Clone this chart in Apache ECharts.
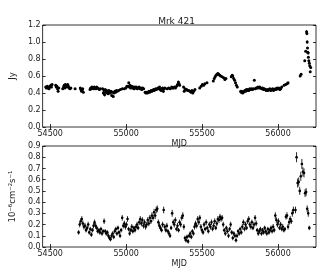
<!DOCTYPE html>
<html><head><meta charset="utf-8">
<script src="https://cdn.jsdelivr.net/npm/echarts@6/dist/echarts.min.js"></script>
<style>html,body{margin:0;padding:0;background:#fff}#c{width:334px;height:276px}</style>
</head><body><div id="c"></div>
<script>
// ---- data ----
const TITLE = 'Mrk 421';
const X_TICKS = [54500, 55000, 55500, 56000];
const TOP_Y_TICKS = [0, 0.2, 0.4, 0.6, 0.8, 1.0, 1.2];
const BOT_Y_TICKS = [0, 0.1, 0.2, 0.3, 0.4, 0.5, 0.6, 0.7, 0.8, 0.9];
// radio flux density [MJD, Jy, err]
const RADIO = [
[54470,0.47,0.01],[54475,0.46,0.01],[54480,0.48,0.01],[54484,0.46,0.01],[54488,0.47,0.01],[54492,0.45,0.01],[54496,0.47,0.01],[54500,0.48,0.01],[54504,0.49,0.01],[54508,0.47,0.01],[54512,0.50,0.01],
[54536,0.49,0.01],[54540,0.47,0.01],[54544,0.48,0.01],[54548,0.45,0.01],[54552,0.42,0.01],[54556,0.46,0.01],
[54582,0.45,0.01],[54588,0.47,0.01],[54592,0.49,0.01],[54596,0.46,0.01],[54600,0.50,0.01],[54605,0.48,0.01],[54610,0.47,0.01],[54615,0.50,0.01],[54620,0.48,0.01],[54625,0.46,0.01],[54630,0.45,0.01],[54636,0.46,0.01],
[54664,0.45,0.01],
[54698,0.46,0.01],[54702,0.44,0.01],[54706,0.42,0.01],[54710,0.43,0.01],[54714,0.45,0.01],[54718,0.41,0.01],
[54762,0.44,0.01],[54766,0.46,0.01],[54770,0.45,0.01],[54775,0.47,0.01],[54780,0.46,0.01],[54785,0.45,0.01],[54790,0.47,0.01],[54795,0.46,0.01],[54800,0.45,0.01],[54806,0.47,0.01],[54812,0.46,0.01],[54818,0.45,0.01],[54824,0.44,0.01],[54830,0.45,0.01],
[54845,0.45,0.01],[54850,0.40,0.02],[54854,0.43,0.01],[54858,0.38,0.02],[54862,0.44,0.01],[54866,0.41,0.01],[54870,0.43,0.01],[54874,0.40,0.01],[54878,0.42,0.01],[54882,0.39,0.01],[54886,0.43,0.01],[54890,0.41,0.01],[54895,0.40,0.01],[54900,0.42,0.01],[54905,0.37,0.01],[54910,0.41,0.01],[54915,0.36,0.01],[54920,0.40,0.01],[54925,0.42,0.01],[54930,0.41,0.01],[54936,0.43,0.01],[54942,0.42,0.01],[54950,0.43,0.01],
[54962,0.44,0.01],[54975,0.45,0.01],[54988,0.45,0.01],[54998,0.46,0.01],[55005,0.48,0.01],[55012,0.48,0.01],[55017,0.52,0.01],[55021,0.47,0.01],[55025,0.49,0.01],[55029,0.46,0.01],[55033,0.47,0.01],[55037,0.48,0.01],[55042,0.46,0.01],[55047,0.47,0.01],[55052,0.45,0.01],[55057,0.47,0.01],[55062,0.46,0.01],[55067,0.47,0.01],[55073,0.45,0.01],[55079,0.46,0.01],[55085,0.47,0.01],[55091,0.45,0.01],[55097,0.46,0.01],[55103,0.44,0.01],[55109,0.46,0.01],[55115,0.45,0.01],
[55125,0.41,0.01],[55130,0.40,0.01],[55135,0.41,0.01],[55140,0.40,0.01],[55145,0.41,0.01],[55150,0.42,0.01],[55155,0.41,0.01],[55160,0.42,0.01],[55165,0.43,0.01],[55170,0.42,0.01],[55175,0.43,0.01],[55180,0.44,0.01],[55185,0.43,0.01],[55190,0.44,0.01],[55195,0.45,0.01],[55200,0.44,0.01],[55205,0.45,0.01],[55210,0.46,0.01],[55215,0.45,0.01],[55220,0.47,0.01],[55225,0.44,0.01],[55230,0.43,0.01],[55235,0.45,0.01],[55240,0.46,0.01],[55245,0.42,0.02],[55250,0.45,0.01],[55255,0.46,0.01],
[55270,0.45,0.01],[55280,0.46,0.01],[55290,0.45,0.01],[55300,0.47,0.01],[55305,0.46,0.01],[55310,0.46,0.01],[55318,0.47,0.01],[55325,0.46,0.01],[55332,0.48,0.01],[55338,0.50,0.01],[55344,0.53,0.01],[55348,0.51,0.01],[55352,0.49,0.01],
[55378,0.47,0.01],[55382,0.42,0.01],[55387,0.45,0.01],[55392,0.44,0.01],[55398,0.44,0.01],[55404,0.43,0.01],[55412,0.43,0.01],[55420,0.42,0.01],[55427,0.41,0.01],[55433,0.43,0.01],[55439,0.40,0.01],[55445,0.42,0.01],[55453,0.44,0.01],
[55484,0.46,0.01],[55494,0.48,0.01],[55502,0.50,0.01],[55510,0.49,0.01],[55518,0.51,0.01],[55532,0.52,0.01],
[55574,0.54,0.01],[55580,0.57,0.01],[55586,0.59,0.01],[55592,0.61,0.01],[55598,0.62,0.01],[55604,0.63,0.01],[55610,0.62,0.01],[55616,0.61,0.01],[55622,0.60,0.01],[55632,0.59,0.01],[55642,0.58,0.01],[55650,0.56,0.01],[55657,0.57,0.01],
[55692,0.59,0.01],[55698,0.61,0.01],[55702,0.60,0.01],[55708,0.57,0.01],[55714,0.55,0.01],[55720,0.52,0.01],[55726,0.49,0.01],[55732,0.47,0.01],
[55754,0.42,0.01],[55758,0.41,0.01],[55762,0.42,0.01],[55767,0.40,0.01],[55772,0.41,0.01],[55777,0.42,0.01],[55782,0.43,0.01],[55787,0.42,0.01],[55792,0.44,0.01],[55797,0.43,0.01],[55802,0.44,0.01],[55808,0.43,0.01],[55814,0.45,0.01],[55820,0.44,0.01],[55826,0.45,0.01],[55832,0.44,0.01],[55838,0.45,0.01],[55844,0.55,0.01],[55850,0.45,0.01],[55856,0.46,0.01],[55862,0.46,0.01],[55868,0.47,0.01],[55874,0.46,0.01],[55880,0.47,0.01],[55886,0.46,0.01],[55892,0.45,0.01],[55898,0.46,0.01],[55904,0.44,0.01],[55910,0.45,0.01],[55916,0.44,0.01],[55922,0.43,0.01],[55928,0.44,0.01],[55934,0.43,0.01],
[55940,0.44,0.01],[55946,0.45,0.01],[55952,0.43,0.01],[55958,0.44,0.01],[55964,0.45,0.01],[55970,0.43,0.01],[55976,0.44,0.01],[55982,0.45,0.01],[55988,0.44,0.01],[55994,0.46,0.01],[56000,0.45,0.01],[56006,0.46,0.01],[56012,0.44,0.01],[56018,0.45,0.01],[56024,0.47,0.01],[56040,0.49,0.01],[56050,0.50,0.01],[56060,0.51,0.01],[56066,0.52,0.01],
[56146,0.60,0.01],[56152,0.62,0.01],[56176,0.78,0.01],[56182,0.89,0.01],[56188,1.12,0.02],[56190,1.10,0.02],[56192,1.00,0.02],[56194,0.93,0.01],[56196,0.88,0.01],[56198,0.87,0.01],[56200,0.82,0.01],[56203,0.78,0.01],[56206,0.75,0.01],[56209,0.72,0.01],[56212,0.65,0.01],[56215,0.70,0.01]
];
// gamma-ray flux [MJD, 1e-6 cm^-2 s^-1, err]
const GAMMA = [
[54687,0.13,0.02],[54694,0.20,0.025],[54701,0.23,0.025],[54708,0.25,0.025],[54715,0.21,0.025],[54722,0.18,0.025],[54729,0.19,0.025],[54736,0.15,0.02],[54743,0.17,0.02],[54750,0.20,0.025],
[54757,0.13,0.02],[54764,0.16,0.02],[54771,0.11,0.02],[54778,0.15,0.02],[54785,0.19,0.025],[54792,0.22,0.025],[54799,0.19,0.025],[54806,0.17,0.02],[54813,0.14,0.02],[54820,0.15,0.02],
[54827,0.13,0.02],[54834,0.16,0.02],[54841,0.12,0.02],[54848,0.14,0.02],[54855,0.23,0.025],[54862,0.14,0.02],[54869,0.12,0.02],[54876,0.13,0.02],[54883,0.10,0.02],[54890,0.08,0.02],
[54897,0.07,0.02],[54904,0.10,0.02],[54911,0.12,0.02],[54918,0.09,0.02],[54925,0.14,0.02],[54932,0.16,0.02],[54939,0.12,0.02],[54946,0.17,0.02],[54953,0.13,0.02],[54960,0.10,0.02],
[54967,0.15,0.02],[54974,0.26,0.025],[54981,0.19,0.025],[54988,0.21,0.025],[54995,0.18,0.025],[55002,0.20,0.025],[55009,0.25,0.025],[55016,0.16,0.02],[55023,0.12,0.02],[55030,0.15,0.02],
[55037,0.18,0.025],[55044,0.14,0.02],[55051,0.17,0.02],[55058,0.15,0.02],[55065,0.18,0.025],[55072,0.20,0.025],[55079,0.17,0.02],[55086,0.22,0.025],[55093,0.25,0.025],[55100,0.21,0.025],
[55107,0.24,0.025],[55114,0.19,0.025],[55121,0.22,0.025],[55128,0.18,0.025],[55135,0.20,0.025],[55142,0.24,0.025],[55149,0.21,0.025],[55156,0.26,0.025],[55163,0.23,0.025],[55170,0.28,0.03],
[55177,0.26,0.025],[55184,0.31,0.03],[55191,0.28,0.03],[55198,0.33,0.03],[55205,0.34,0.03],[55212,0.22,0.025],[55219,0.19,0.025],[55226,0.17,0.02],[55233,0.15,0.02],[55240,0.20,0.025],
[55247,0.33,0.03],[55254,0.18,0.025],[55261,0.15,0.02],[55268,0.19,0.025],[55275,0.14,0.02],[55282,0.12,0.02],[55289,0.10,0.02],[55296,0.17,0.02],[55303,0.30,0.03],[55310,0.22,0.025],
[55317,0.20,0.025],[55324,0.24,0.025],[55331,0.16,0.02],[55338,0.19,0.025],[55345,0.15,0.02],[55352,0.22,0.025],[55359,0.20,0.025],[55366,0.26,0.025],[55373,0.28,0.03],[55380,0.18,0.025],
[55387,0.08,0.02],[55394,0.06,0.02],[55401,0.09,0.02],[55408,0.05,0.02],[55415,0.10,0.02],[55422,0.12,0.02],[55429,0.09,0.02],[55436,0.14,0.02],[55443,0.12,0.02],[55450,0.18,0.025],
[55457,0.21,0.025],[55464,0.19,0.025],[55471,0.25,0.025],[55478,0.22,0.025],[55485,0.26,0.025],[55492,0.18,0.025],[55499,0.15,0.02],[55506,0.13,0.02],[55513,0.20,0.025],[55520,0.16,0.02],
[55527,0.22,0.025],[55534,0.17,0.02],[55541,0.14,0.02],[55548,0.20,0.025],[55555,0.18,0.025],[55562,0.22,0.025],[55569,0.16,0.02],[55576,0.19,0.025],[55583,0.23,0.025],[55590,0.17,0.02],
[55597,0.21,0.025],[55604,0.25,0.025],[55611,0.24,0.025],[55618,0.27,0.025],[55625,0.25,0.025],[55632,0.26,0.025],[55639,0.20,0.025],[55646,0.15,0.02],[55653,0.12,0.02],[55660,0.17,0.02],
[55667,0.14,0.02],[55674,0.10,0.02],[55681,0.16,0.02],[55688,0.20,0.025],[55695,0.13,0.02],[55702,0.08,0.02],[55709,0.12,0.02],[55716,0.10,0.02],[55723,0.06,0.02],[55730,0.10,0.02],
[55737,0.14,0.02],[55744,0.12,0.02],[55751,0.16,0.02],[55758,0.13,0.02],[55765,0.18,0.025],[55772,0.22,0.025],[55779,0.16,0.02],[55786,0.20,0.025],[55793,0.17,0.02],[55800,0.23,0.025],
[55807,0.25,0.025],[55814,0.20,0.025],[55821,0.18,0.025],[55828,0.22,0.025],[55835,0.17,0.02],[55842,0.20,0.025],[55849,0.26,0.025],[55856,0.21,0.025],[55863,0.15,0.02],[55870,0.12,0.02],
[55877,0.14,0.02],[55884,0.16,0.02],[55891,0.12,0.02],[55898,0.15,0.02],[55905,0.13,0.02],[55912,0.17,0.02],[55919,0.14,0.02],[55926,0.12,0.02],[55933,0.16,0.02],[55940,0.13,0.02],
[55947,0.15,0.02],[55954,0.17,0.02],[55961,0.14,0.02],[55968,0.18,0.025],[55975,0.15,0.02],[55982,0.28,0.03],[55989,0.24,0.025],[55996,0.20,0.025],[56003,0.23,0.025],[56010,0.17,0.02],
[56017,0.20,0.025],[56024,0.16,0.02],[56031,0.18,0.025],[56038,0.15,0.02],[56045,0.16,0.02],[56052,0.27,0.025],[56059,0.28,0.03],[56066,0.18,0.025],[56073,0.22,0.025],[56080,0.25,0.025],
[56087,0.23,0.025],[56094,0.30,0.03],[56101,0.33,0.03],[56115,0.33,0.03],[56122,0.80,0.045],[56129,0.57,0.04],[56136,0.58,0.04],[56143,0.50,0.035],[56150,0.63,0.04],[56157,0.74,0.045],
[56164,0.67,0.04],[56171,0.66,0.04],[56178,0.48,0.035],[56185,0.49,0.035],[56192,0.34,0.03],[56199,0.30,0.03],[56206,0.17,0.02]
];
const X_MIN = 54450, X_MAX = 56250;

// ---- chart ----
const chart = echarts.init(document.getElementById('c'), null, {renderer: 'canvas'});
const FONT = 'DejaVu Sans';
const txt = {color: '#222', fontFamily: FONT, fontSize: 8};

function xAx(gi, pos, showLabel) {
  return {
    type: 'value', gridIndex: gi, position: pos, min: X_MIN, max: X_MAX,
    axisLine: {show: false},
    axisTick: {show: true, inside: true, length: 3, lineStyle: {color: '#000', width: 0.8}, customValues: X_TICKS},
    axisLabel: Object.assign({show: showLabel, margin: 3, customValues: X_TICKS, formatter: v => String(v)}, txt),
    splitLine: {show: false},
    name: showLabel ? 'MJD' : '', nameLocation: 'middle', nameGap: 13,
    nameTextStyle: {color: '#222', fontFamily: FONT, fontSize: 8}
  };
}
function yAx(gi, pos, showLabel, ticks, name, gap) {
  return {
    type: 'value', gridIndex: gi, position: pos, min: ticks[0], max: ticks[ticks.length - 1],
    interval: ticks[1] - ticks[0],
    axisLine: {show: false},
    axisTick: {show: true, inside: true, length: 3, lineStyle: {color: '#000', width: 0.8}},
    axisLabel: Object.assign({show: showLabel, margin: 2, formatter: v => v.toFixed(1)}, txt),
    splitLine: {show: false},
    name: showLabel ? name : '', nameLocation: 'middle', nameGap: gap, nameRotate: 90,
    nameTextStyle: {color: '#222', fontFamily: FONT, fontSize: 8.5}
  };
}
function errSeries(data, xi, yi, capW, r) {
  return {
    type: 'custom', xAxisIndex: xi, yAxisIndex: yi, clip: true,
    data: data,
    encode: {x: 0, y: 1},
    renderItem: function (params, api) {
      const x = api.value(0), y = api.value(1), e = api.value(2);
      const p = api.coord([x, y]);
      const lo = api.coord([x, y - e]);
      const hi = api.coord([x, y + e]);
      const children = [
        {type: 'line', shape: {x1: p[0], y1: lo[1], x2: p[0], y2: hi[1]}, style: {stroke: '#111', lineWidth: 0.9}}
      ];
      if (capW) {
        const l = api.coord([x - capW, y]), rr = api.coord([x + capW, y]);
        children.push({type: 'line', shape: {x1: l[0], y1: p[1], x2: rr[0], y2: p[1]}, style: {stroke: '#111', lineWidth: 0.9}});
      }
      children.push({type: 'circle', shape: {cx: p[0], cy: p[1], r: r}, style: {fill: '#000'}});
      return {type: 'group', children: children};
    }
  };
}

chart.setOption({
  animation: false,
  backgroundColor: '#fff',
  title: {text: TITLE, left: 171.5, textAlign: 'center', top: 12,
    textStyle: {color: '#222', fontFamily: FONT, fontSize: 9, fontWeight: 'normal'}},
  grid: [
    {left: 27, top: 25, width: 289, height: 102, show: true, borderColor: '#000', borderWidth: 0.8, backgroundColor: 'transparent'},
    {left: 27, top: 146, width: 289, height: 101, show: true, borderColor: '#000', borderWidth: 0.8, backgroundColor: 'transparent'}
  ],
  xAxis: [xAx(0, 'bottom', true), xAx(0, 'top', false), xAx(1, 'bottom', true), xAx(1, 'top', false)],
  yAxis: [
    yAx(0, 'left', true, TOP_Y_TICKS, 'Jy', 15), yAx(0, 'right', false, TOP_Y_TICKS, '', 0),
    yAx(1, 'left', true, BOT_Y_TICKS, '10\u207B\u2076cm\u207B\u00B2s\u207B\u00B9', 15), yAx(1, 'right', false, BOT_Y_TICKS, '', 0)
  ],
  series: [
    errSeries(RADIO, 0, 0, 0, 1.5),
    errSeries(GAMMA, 2, 2, 3.5, 1.3)
  ]
});
</script>
</body></html>
